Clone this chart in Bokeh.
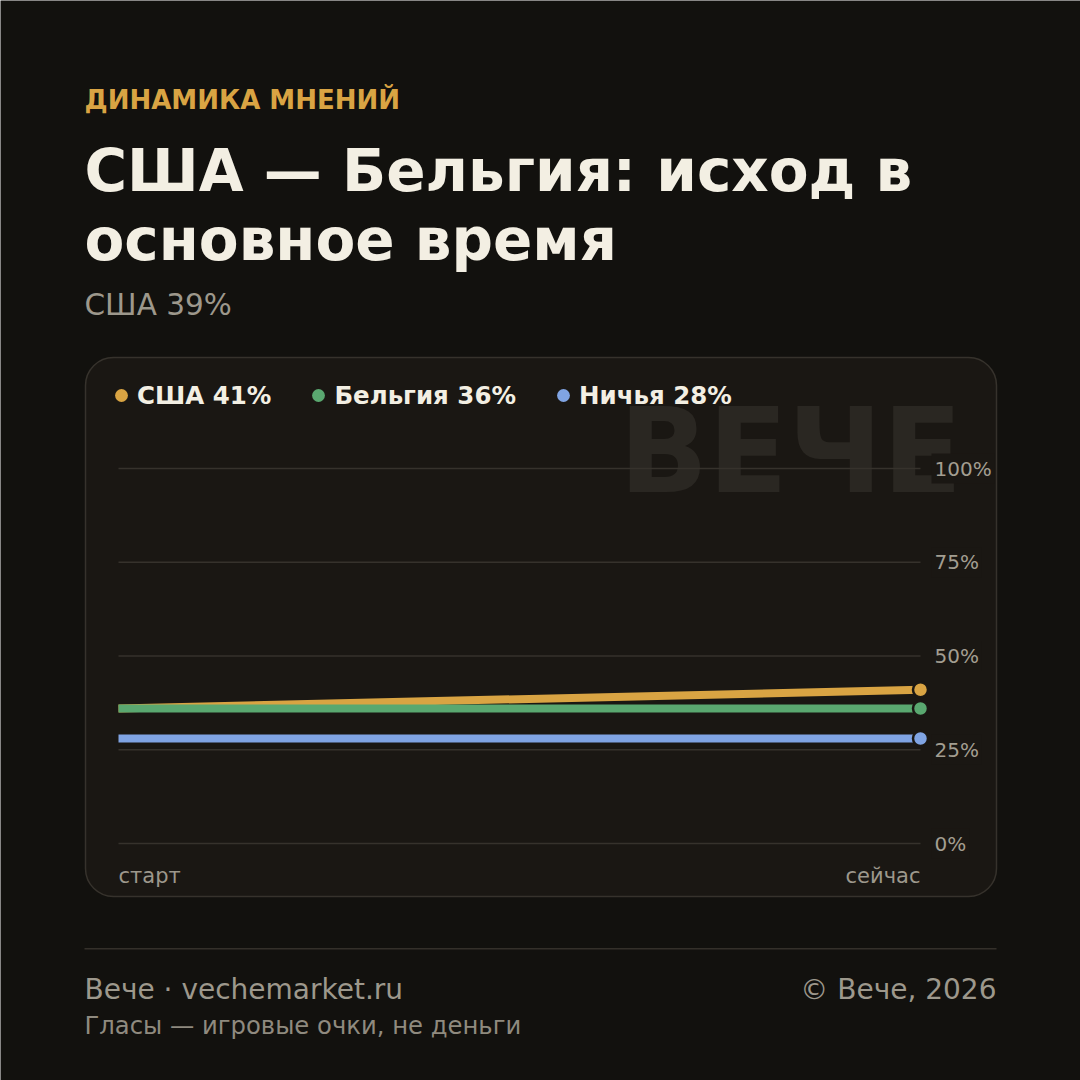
import math
from bokeh.plotting import figure
from bokeh.models import (Range1d, Label, BoxAnnotation, Legend, LegendItem,
                          ColumnDataSource)
from bokeh.core.properties import value
from bokeh.embed import file_html
from bokeh.resources import INLINE

# ---------------- data ----------------
positions = [0, 1]                 # старт -> сейчас
position_labels = ["старт", "сейчас"]
usa = [36, 41]
belgium = [36, 36]
draw = [28, 28]
series_names = ["США 41%", "Бельгия 36%", "Ничья 28%"]
y_ticks = [0, 25, 50, 75, 100]
y_tick_labels = ["0%", "25%", "50%", "75%", "100%"]

kicker = "ДИНАМИКА МНЕНИЙ"
title_lines = ["США — Бельгия: исход в", "основное время"]
subtitle = "США 39%"
footer_left = "Вече · vechemarket.ru"
footer_right = "© Вече, 2026"
footer_note = "Гласы — игровые очки, не деньги"
watermark = "ВЕЧЕ"

# ---------------- style ----------------
FONT = "DejaVu Sans"
BG = "#12110e"
CARD = "#1a1713"
CARD_LINE = "#36322c"
GRID = "#36322c"
CREAM = "#f3efe3"
GRAY = "#9d988c"
TICK = "#a39e91"
ORANGE = "#d9a443"
GREEN = "#5aa870"
BLUE = "#80a4e3"
colors = [ORANGE, GREEN, BLUE]
BASE_K = 0.385   # baseline correction (fraction of font size)

W = H = 1080
# plot area inside the canvas (pixels)
PL, PR, PT, PB = 118, 920, 468, 843
x0d, x1d = positions[0], positions[-1]
y0d, y1d = y_ticks[0], y_ticks[-1]
sx = (PR - PL) / (x1d - x0d)
sy = (PB - PT) / (y1d - y0d)

p = figure(width=W, height=H, output_backend="svg", toolbar_location=None,
           title=None,
           x_range=Range1d(x0d - PL / sx, x1d + (W - PR) / sx),
           y_range=Range1d(y0d - (H - PB) / sy, y1d + PT / sy),
           x_axis_location=None, y_axis_location=None,
           min_border=0)
p.background_fill_color = BG
p.border_fill_color = BG
p.outline_line_color = None
p.grid.visible = False

# card
p.add_layout(BoxAnnotation(left=85, right=996, top=357, bottom=896,
                           left_units="canvas", right_units="canvas",
                           top_units="canvas", bottom_units="canvas",
                           fill_color=CARD, fill_alpha=1, line_color=CARD_LINE,
                           line_alpha=1, line_width=1.5, border_radius=28,
                           level="image"))
# watermark
WM = 117
p.add_layout(Label(x=962, y=496 - BASE_K * WM, x_units="canvas", y_units="canvas",
                   text=watermark, text_align="right", text_baseline="alphabetic",
                   text_font=FONT, text_font_size=f"{WM}px", text_font_style="bold",
                   text_color="#2a2722", level="image"))

# grid lines (horizontal, across the data domain)
grid_src = ColumnDataSource(dict(x0=[x0d] * len(y_ticks),
                                 x1=[x1d] * len(y_ticks),
                                 y=y_ticks))
p.segment(x0="x0", x1="x1", y0="y", y1="y", source=grid_src,
          line_color=GRID, line_width=1.6, level="underlay")

# lines
for ys, c in zip([usa, belgium, draw], colors):
    p.line(positions, ys, line_color=c, line_width=8, line_cap="butt", line_join="round")

# end markers
end_src = ColumnDataSource(dict(x=[positions[-1]] * 3,
                                y=[usa[-1], belgium[-1], draw[-1]],
                                c=colors))
p.scatter(x="x", y="y", source=end_src, size=15, fill_color="c",
          line_color=CARD, line_width=2.5)

# legend
leg_items = []
for name, c in zip(series_names, colors):
    r = p.scatter(x=[math.nan], y=[math.nan], size=14, fill_color=c, line_color=None)
    leg_items.append(LegendItem(label=value(name), renderers=[r]))
legend = Legend(items=leg_items, orientation="horizontal", location=(105, 667),
                glyph_width=32, glyph_height=36, label_standoff=0, spacing=31,
                padding=0, margin=0, background_fill_alpha=0, border_line_alpha=0,
                label_text_font=FONT, label_text_font_size="24.5px",
                label_text_font_style="bold", label_text_color=CREAM,
                label_height=36)
p.add_layout(legend)

# y tick labels
for t, lab in zip(y_ticks, y_tick_labels):
    p.add_layout(Label(x=931, x_units="canvas", y=t, y_units="data", text=lab,
                       text_align="left", text_baseline="middle",
                       text_font=FONT, text_font_size="20px", text_color=TICK,
                       background_fill_color=CARD, background_fill_alpha=1, padding=3))

# x labels
XL = 21
p.add_layout(Label(x=x0d, x_units="data", y=884 - BASE_K * XL, y_units="canvas",
                   text=position_labels[0], text_align="left", text_baseline="alphabetic",
                   text_font=FONT, text_font_size=f"{XL}px", text_color=GRAY))
p.add_layout(Label(x=x1d, x_units="data", y=884 - BASE_K * XL, y_units="canvas",
                   text=position_labels[1], text_align="right", text_baseline="alphabetic",
                   text_font=FONT, text_font_size=f"{XL}px", text_color=GRAY))

def canvas_label(text, x, baseline, size, color, bold=False, align="left"):
    p.add_layout(Label(x=x, y=baseline - BASE_K * size, x_units="canvas", y_units="canvas",
                       text=text, text_align=align, text_baseline="alphabetic",
                       text_font=FONT, text_font_size=f"{size}px",
                       text_font_style="bold" if bold else "normal",
                       text_color=color))

canvas_label(kicker, 84, 110, 26, ORANGE, bold=True)
canvas_label(title_lines[0], 84, 193, 58, CREAM, bold=True)
canvas_label(title_lines[1], 84, 262, 58, CREAM, bold=True)
canvas_label(subtitle, 84, 316, 29.5, GRAY)

# footer rule
p.add_layout(BoxAnnotation(left=84, right=996, top=947.5, bottom=949,
                           left_units="canvas", right_units="canvas",
                           top_units="canvas", bottom_units="canvas",
                           fill_color="#34302a", fill_alpha=1, line_alpha=0))
canvas_label(footer_left, 84, 1000, 28, GRAY)
canvas_label(footer_right, 996, 1000, 28, GRAY, align="right")
canvas_label(footer_note, 84, 1034, 24.3, "#8f8a7f")

open("out.html", "w").write(file_html(p, INLINE))
